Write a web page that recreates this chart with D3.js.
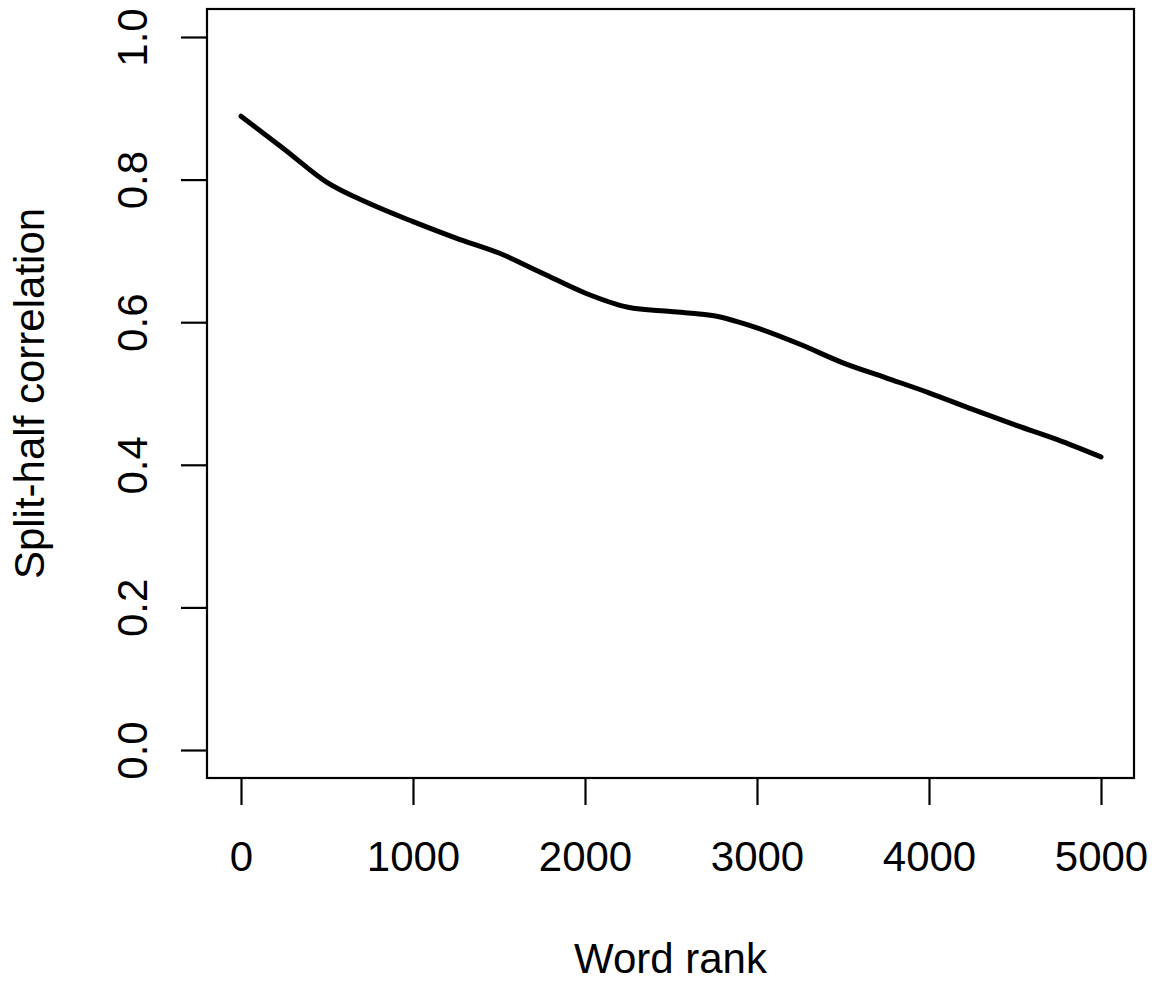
<!DOCTYPE html>
<html>
<head>
<meta charset="utf-8">
<script src="https://cdn.jsdelivr.net/npm/d3@7"></script>
<style>
  html, body { margin: 0; padding: 0; background: #fff; }
  svg { display: block; }
  text { font-family: "Liberation Sans", Arial, Helvetica, sans-serif; fill: #000; }
</style>
</head>
<body>
<svg id="chart" width="1163" height="984"></svg>
<script>
const wordRank = [0, 250, 500, 750, 1000, 1250, 1500, 1750, 2000, 2250, 2500, 2750, 3000, 3250, 3500, 3750, 4000, 4250, 4500, 4750, 5000];
const splitHalf = [0.889, 0.843, 0.796, 0.766, 0.741, 0.718, 0.697, 0.669, 0.641, 0.621, 0.615, 0.609, 0.592, 0.569, 0.543, 0.522, 0.501, 0.478, 0.456, 0.435, 0.411];
const xTicks = [0, 1000, 2000, 3000, 4000, 5000];
const yTicks = [0.0, 0.2, 0.4, 0.6, 0.8, 1.0];
const xLabel = "Word rank";
const yLabel = "Split-half correlation";

const svg = d3.select("#chart");
const box = {left: 207, right: 1134, top: 9, bottom: 778};
const x = d3.scaleLinear().domain([0, 5000]).range([241, 1101]);
const y = d3.scaleLinear().domain([0, 1]).range([750, 37]);
const fs = 42;

// plot box
svg.append("rect")
  .attr("x", box.left).attr("y", box.top)
  .attr("width", box.right - box.left).attr("height", box.bottom - box.top)
  .attr("fill", "none").attr("stroke", "#000").attr("stroke-width", 2.2);

// x axis
const xa = svg.append("g").attr("transform", `translate(0,${box.bottom})`)
  .call(d3.axisBottom(x).tickValues(xTicks).tickSize(27).tickSizeOuter(0).tickFormat(d3.format("d")));
xa.select(".domain").remove();
xa.selectAll(".tick line").attr("stroke", "#000").attr("stroke-width", 2.2);
xa.selectAll(".tick text").attr("font-size", fs).attr("dy", null).attr("y", 93)
  .style("font-family", "'Liberation Sans', Arial, sans-serif");

// y axis
const ya = svg.append("g").attr("transform", `translate(${box.left},0)`)
  .call(d3.axisLeft(y).tickValues(yTicks).tickSize(26).tickSizeOuter(0).tickFormat(d3.format(".1f")));
ya.select(".domain").remove();
ya.selectAll(".tick line").attr("stroke", "#000").attr("stroke-width", 2.2);
ya.selectAll(".tick text")
  .attr("font-size", fs)
  .attr("x", null).attr("dy", null)
  .attr("text-anchor", "middle")
  .attr("transform", "translate(-60,0) rotate(-90)")
  .style("font-family", "'Liberation Sans', Arial, sans-serif");

// line
const line = d3.line()
  .x((d, i) => x(wordRank[i]))
  .y(d => y(d))
  .curve(d3.curveMonotoneX);
svg.append("path")
  .datum(splitHalf)
  .attr("d", line)
  .attr("fill", "none")
  .attr("stroke", "#000")
  .attr("stroke-width", 5)
  .attr("stroke-linecap", "round")
  .attr("stroke-linejoin", "round");

// axis titles
svg.append("text")
  .attr("x", (box.left + box.right) / 2).attr("y", 973)
  .attr("text-anchor", "middle").attr("font-size", fs)
  .text(xLabel);
svg.append("text")
  .attr("transform", `translate(44,${(box.top + box.bottom) / 2}) rotate(-90)`)
  .attr("text-anchor", "middle").attr("font-size", fs)
  .text(yLabel);
</script>
</body>
</html>
